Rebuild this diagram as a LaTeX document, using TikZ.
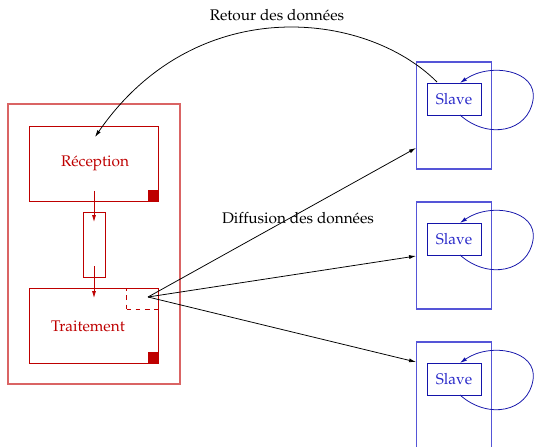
\documentclass[tikz,border=0pt]{standalone}
\usepackage[T1]{fontenc}
\usepackage{mathpazo}
\usetikzlibrary{arrows.meta}
\definecolor{dred}{RGB}{190,0,0}
\definecolor{lred}{RGB}{218,100,100}
\definecolor{dblue}{RGB}{20,20,170}
\definecolor{lblue}{RGB}{85,85,215}
\definecolor{tblue}{RGB}{40,40,200}
\tikzset{
  redbox/.style={draw=dred, line width=0.6pt, minimum width=129*0.65pt, minimum height=75*0.65pt, text=dred, inner sep=0pt},
  outerred/.style={draw=lred, line width=0.8pt, inner sep=0pt},
  bluebox/.style={draw=lblue, line width=0.8pt, minimum width=75*0.65pt, minimum height=107*0.65pt, inner sep=0pt},
  slavebox/.style={draw=dblue, line width=0.6pt, minimum width=54*0.65pt, minimum height=32*0.65pt, text=tblue, inner sep=0pt},
  corner/.style={fill=dred, draw=none, minimum size=11*0.65pt, inner sep=0pt},
  arr/.style={-{Latex[length=4.5pt,width=2.6pt]}, line width=0.5pt},
  redarr/.style={arr, draw=dred},
  bluearr/.style={arr, draw=dblue},
  lbl/.style={inner sep=0pt, font=\normalsize}
}
\begin{document}
\begin{tikzpicture}[x=0.65pt, y=-0.65pt]
\useasboundingbox (0,0) rectangle (534,447);
% master
\node[outerred, minimum width=172*0.65pt, minimum height=280*0.65pt] (master) at (94,244) {};
\node[redbox] (rec) at (94,163.5) {};
\node[text=dred, inner sep=0pt] (rectext) at (95,163) {R\'eception};
\node[corner, anchor=south east] (rc) at (rec.south east) {};
\node[draw=dred, line width=0.6pt, minimum width=22*0.65pt, minimum height=65*0.65pt, inner sep=0pt] (buf) at (94,244.5) {};
\node[redbox] (tra) at (94,325.5) {};
\node[text=dred, inner sep=0pt] (tratext) at (88,326) {Traitement};
\node[corner, anchor=south east] (tc) at (tra.south east) {};
\node[draw=dred, dashed, line width=0.6pt, minimum width=32*0.65pt, minimum height=21*0.65pt, inner sep=0pt, anchor=north east] (out) at (tra.north east) {};
\coordinate (a1s) at (94,191);
\coordinate (a1e) at (94,222);
\coordinate (a2s) at (94,266);
\coordinate (a2e) at (94,298);
\draw[redarr] (a1s) -- (a1e);
\draw[redarr] (a2s) -- (a2e);
% slaves
\foreach \i/\y in {1/0,2/140,3/280}{
  \node[bluebox] (m\i) at (454,115.5+\y) {};
  \node[slavebox] (s\i) at (454,99+\y) {Slave};
  \coordinate (lb\i) at (460,115+\y);
  \coordinate (lt\i) at (460,83+\y);
  \coordinate (lr\i) at (533,100+\y);
  \draw[bluearr] (lb\i) .. controls (488,140+\y) and (528,132+\y) .. (lr\i)
     .. controls (538,70+\y) and (490,62+\y) .. (lt\i);
}
% diffusion
\coordinate (fan) at (148,297);
\coordinate (t1) at (416,148);
\coordinate (t2) at (416,256);
\coordinate (t3) at (416,362);
\draw[arr] (fan) -- (t1);
\draw[arr] (fan) -- (t2);
\draw[arr] (fan) -- (t3);
\node[lbl] (diff) at (298,218) {Diffusion des donn\'ees};
% retour
\coordinate (rs) at (437,82);
\coordinate (re) at (95,137);
\draw[arr] (rs) .. controls (365,10) and (195,-8) .. (re);
\node[lbl] (ret) at (277,15) {Retour des donn\'ees};
\end{tikzpicture}
\end{document}
